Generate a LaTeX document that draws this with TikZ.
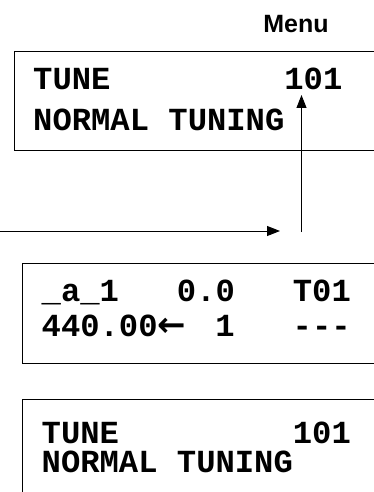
\documentclass[tikz,border=0pt]{standalone}
\usepackage{fontspec}
\newfontfamily\menufont{Liberation Sans}
\newfontfamily\lcdfont{Liberation Mono}
\newfontfamily\symbfont{DejaVu Sans}
\usetikzlibrary{arrows.meta}
\newcommand{\cw}{19.3}

\begin{document}
\begin{tikzpicture}[x=1pt, y=-1pt,
    screen/.style={draw, rectangle, anchor=north west, line width=1.4pt, inner sep=0pt},
    lcd/.style={anchor=base west, inner sep=0pt, font=\lcdfont\bfseries\fontsize{32.2}{36}\selectfont},
    pointer/.style={-{Triangle[length=13pt, width=10pt]}, line width=1pt}]
    \path[use as bounding box, clip] (0,0) rectangle (374,492);

    \node[inner sep=0pt, font=\menufont\bfseries\fontsize{25}{30}\selectfont] (menu) at (296,24) {Menu};

    % Top screen
    \node[screen, minimum width=390pt, minimum height=99pt] (screen-1) at (14,51) {};
    \node[lcd] (line-1-1) at (33,90) {TUNE~~~~~~~~~101};
    \node[lcd] (line-1-2) at (33,130) {NORMAL~TUNING};

    % Middle screen
    \node[screen, minimum width=390pt, minimum height=100pt] (screen-2) at (22,263) {};
    \node[lcd] (line-2-1) at (41.5,301) {\_a\_1~~~0.0~~~T01};
    \node[lcd] (line-2-2) at (41.5,336) {440.00};
    \node[inner sep=0pt, anchor=west, font=\symbfont\bfseries\fontsize{34}{36}\selectfont] (cursor) at (41.5+6*\cw,327) {←};
    \node[lcd] (line-2-3) at (41.5+9*\cw,336) {1~~~---};

    % Bottom screen
    \node[screen, minimum width=390pt, minimum height=110pt] (screen-3) at (22,399) {};
    \node[lcd] (line-3-1) at (41.5,443) {TUNE~~~~~~~~~101};
    \node[lcd] (line-3-2) at (41.5,472) {NORMAL~TUNING};

    % Arrows
    \coordinate (in) at (0,231);
    \coordinate (turn) at (280,231);
    \coordinate (up) at (301.5,232);
    \coordinate (tip) at (301.5,95);
    \draw[pointer] (in) -- (turn);
    \draw[pointer] (up) -- (tip);

\end{tikzpicture}
\end{document}
